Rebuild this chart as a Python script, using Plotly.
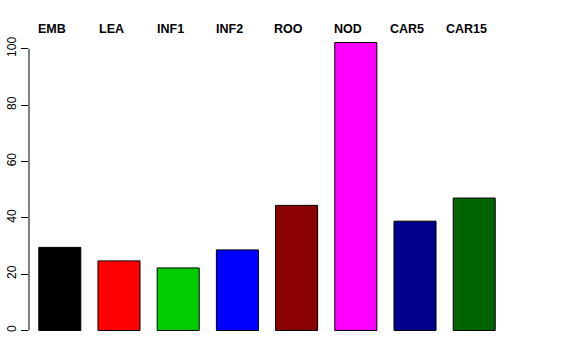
import plotly.graph_objects as go

categories = ["EMB", "LEA", "INF1", "INF2", "ROO", "NOD", "CAR5", "CAR15"]
values = [29.5, 24.7, 22.2, 28.6, 44.4, 102.2, 38.8, 47.0]
colors = ["#000000", "#FF0000", "#00CD00", "#0000FF", "#8B0000", "#FF00FF", "#00008B", "#006400"]
y_ticks = [0, 20, 40, 60, 80, 100]

xpos = list(range(len(categories)))

W, H = 576, 360
ML, MT, MB, MR = 28.5, 31, 17.5, 71

fig = go.Figure()
fig.add_trace(go.Bar(
    x=xpos, y=values, width=0.71,
    marker=dict(color=colors, line=dict(color="black", width=1)),
    showlegend=False, hoverinfo="skip",
))

plot_h = H - MT - MB
label_px = 29  # label centre, pixels from top of figure
for i, c in enumerate(categories):
    fig.add_annotation(x=i - 0.135, y=(H - MB - label_px) / plot_h, xref="x", yref="paper",
                       text="<b>%s</b>" % c,
                       showarrow=False, xanchor="center", yanchor="middle",
                       font=dict(family="Liberation Sans, Arial, sans-serif", size=12.5, color="black"))

# y axis line from 0 to 100 like R
fig.add_shape(type="line", xref="paper", yref="y", x0=0, x1=0, y0=0, y1=100,
              line=dict(color="black", width=1))

ymin = -0.04 * max(values)
ymax = max(values) * 1.04
fig.update_layout(
    width=W, height=H,
    margin=dict(l=ML, r=MR, t=MT, b=MB, autoexpand=False),
    paper_bgcolor="white", plot_bgcolor="white",
    font=dict(family="Liberation Sans, Arial, sans-serif", size=12, color="black"),
    xaxis=dict(range=[-0.52, 7.52], showticklabels=False, showgrid=False, zeroline=False,
               showline=False, ticks=""),
    yaxis=dict(range=[ymin, ymax], tickvals=y_ticks, ticktext=[str(v) for v in y_ticks],
               tickangle=-90, ticks="outside", ticklen=7, tickcolor="black", tickwidth=1,
               showgrid=False, zeroline=False, showline=False,
               tickfont=dict(size=12, color="black")),
)

fig.write_html("out.html", config={"displayModeBar": False},
               post_script="document.body.style.margin='0';document.body.style.overflow='hidden';")
